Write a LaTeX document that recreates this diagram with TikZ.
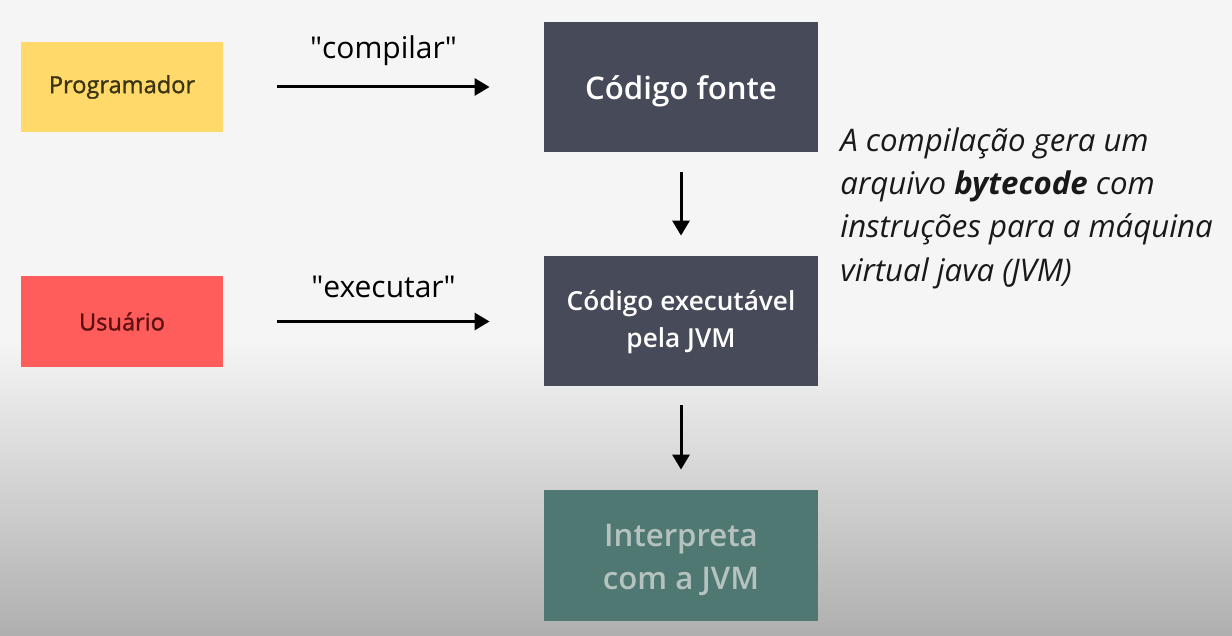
\documentclass[tikz,border=0pt]{standalone}
\usepackage{fontspec}
\setmainfont{Open Sans}
\IfFontExistsTF{Open Sans Semibold}{\newfontfamily\osemi{Open Sans Semibold}\def\szA{15.6}\def\szB{13.1}}{%
  \IfFontExistsTF{Open Sans SemiBold}{\newfontfamily\osemi{Open Sans SemiBold}\def\szA{15.6}\def\szB{13.1}}{%
    \newfontfamily\osemi[FakeBold=3]{Open Sans}\def\szA{16.2}\def\szB{13.6}}}
\newfontfamily\omed[FakeBold=1.2]{Open Sans}
\usetikzlibrary{arrows.meta}
\definecolor{bgtop}{HTML}{F5F5F5}
\definecolor{bgbot}{HTML}{AFAFAF}
\definecolor{yel}{HTML}{FFDA6B}
\definecolor{yeltext}{HTML}{3B3311}
\definecolor{redbox}{HTML}{FF5C5C}
\definecolor{redtext}{HTML}{5C1010}
\definecolor{darkbox}{HTML}{474A58}
\definecolor{tealbox}{HTML}{4F7872}
\definecolor{tealtext}{HTML}{B5C2BE}
\newcommand{\lowered}[2]{\raisebox{-#1}[0pt][0pt]{#2}}
\tikzset{
  actor/.style={minimum width=101pt, minimum height=45pt, inner sep=0pt, font=\omed\fontsize{11.8}{14}\selectfont},
  codebox/.style={fill=darkbox, text=white, minimum width=137pt, minimum height=65pt, inner sep=0pt, align=center},
  flow/.style={line width=1.5pt, -{Triangle[length=7.5pt,width=8.5pt]}},
  lbl/.style={font=\fontsize{15}{17}\selectfont, text=black}
}
\begin{document}
\begin{tikzpicture}[x=0.5pt,y=-0.5pt]
\useasboundingbox (0,0) rectangle (1232,636);
\fill[bgtop] (0,0) rectangle (1232,341);
\shade[top color=bgtop, bottom color=bgbot] (0,340) rectangle (1232,636);
\node[actor, fill=yel, text=yeltext] (prog) at (122,87) {Programador};
\node[actor, fill=redbox, text=redtext, minimum height=45.5pt] (user) at (122,321.5) {Usuário};
\node[codebox, font=\osemi\fontsize{\szA}{19}\selectfont] (src) at (681,87) {\lowered{6.5pt}{Código fonte}};
\node[codebox, font=\osemi\fontsize{\szB}{18.5}\selectfont] (exe) at (681,321) {\lowered{13.5pt}{\begin{tabular}[b]{@{}c@{}}Código executável\\pela JVM\end{tabular}}};
\node[codebox, fill=tealbox, text=tealtext, minimum height=65.5pt, font=\osemi\fontsize{\szA}{21.5}\selectfont] (interp) at (681,555.5) {\lowered{17pt}{\begin{tabular}[b]{@{}c@{}}Interpreta\\com a JVM\end{tabular}}};
\draw[flow, shorten <=27pt, shorten >=27pt] (prog.east) -- node[lbl, yshift=18pt] (lcomp) {\textquotedbl compilar\textquotedbl} (src.west |- prog.east);
\draw[flow, shorten <=27pt, shorten >=27pt] (user.east) -- node[lbl, yshift=17.5pt] (lexec) {\textquotedbl executar\textquotedbl} (exe.west |- user.east);
\draw[flow, shorten <=10pt, shorten >=10pt] (src.south) -- (exe.north);
\draw[flow, shorten <=9.5pt, shorten >=10pt] (exe.south) -- (interp.north);
\node[anchor=north west, inner sep=0pt, align=left, font=\fontsize{15.6}{21.7}\selectfont\itshape, text=black!90] (note) at (840,127)
  {A compilação gera um\\arquivo \textbf{bytecode} com\\instruções para a máquina\\virtual java (JVM)};
\end{tikzpicture}
\end{document}
